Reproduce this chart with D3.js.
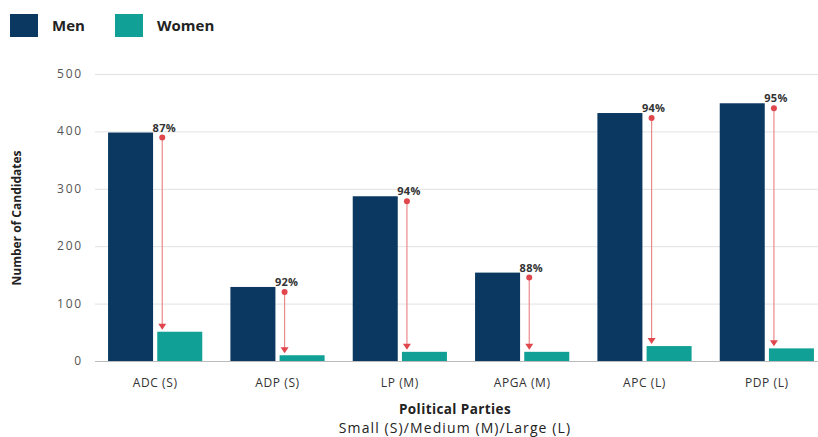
<!DOCTYPE html>
<html>
<head>
<meta charset="utf-8">
<script src="https://cdn.jsdelivr.net/npm/d3@7"></script>
<style>
  body { margin: 0; background: #fff; }
  svg { display: block; font-family: 'Open Sans', sans-serif; }
</style>
</head>
<body>
<svg id="chart" width="818" height="437"></svg>
<script>
const parties = ['ADC (S)', 'ADP (S)', 'LP (M)', 'APGA (M)', 'APC (L)', 'PDP (L)']
const men = [398, 129, 287, 154, 432, 449]
const women = [51, 10, 16, 16, 26, 22]
const shares = ['87%', '92%', '94%', '88%', '94%', '95%']
const series = ['Men', 'Women']
const yTicks = [0, 100, 200, 300, 400, 500]

const colors = { Men: '#0a3861', Women: '#10a096' }
const arrowColor = '#e0474c'

const svg = d3.select('#chart')

const x = d3.scaleBand()
  .domain(parties)
  .range([94, 828])
  .paddingInner(0.23)
  .paddingOuter(0.115)

const xs = d3.scaleBand()
  .domain(series)
  .range([0, x.bandwidth()])
  .paddingInner(0.085)

const y = d3.scaleLinear()
  .domain([0, 500])
  .range([361, 74])

// grid lines
svg.append('g')
  .selectAll('line')
  .data(yTicks)
  .join('line')
  .attr('x1', 95)
  .attr('x2', 818)
  .attr('y1', d => y(d) + 0.5)
  .attr('y2', d => y(d) + 0.5)
  .attr('stroke', d => d === 0 ? '#bbb' : '#e2e2e2')
  .attr('stroke-width', 1)

// y axis labels
svg.append('g')
  .selectAll('text')
  .data(yTicks)
  .join('text')
  .attr('x', 83)
  .attr('y', d => y(d) + 4)
  .attr('text-anchor', 'end')
  .attr('font-size', 12)
  .attr('letter-spacing', 1.8)
  .attr('fill', '#555')
  .text(d => d)

svg.append('text')
  .attr('transform', 'translate(21,218) rotate(-90)')
  .attr('text-anchor', 'middle')
  .attr('font-size', 12)
  .attr('font-weight', 'bold')
  .attr('fill', '#222')
  .text('Number of Candidates')

// bars
const rows = parties.map((p, i) => ({ party: p, Men: men[i], Women: women[i], share: shares[i] }))

const group = svg.append('g')
  .selectAll('g')
  .data(rows)
  .join('g')
  .attr('transform', d => `translate(${x(d.party)},0)`)

group.selectAll('rect')
  .data(d => series.map(s => ({ key: s, value: d[s] })))
  .join('rect')
  .attr('x', d => xs(d.key))
  .attr('width', xs.bandwidth())
  .attr('y', d => y(d.value))
  .attr('height', d => y(0) - y(d.value))
  .attr('fill', d => colors[d.key])

// arrows from men to women
const ax = xs('Women') + 5
group.append('line')
  .attr('x1', ax)
  .attr('x2', ax)
  .attr('y1', d => y(d.Men) + 5)
  .attr('y2', d => y(d.Women) - 6)
  .attr('stroke', '#ea8a8a')
  .attr('stroke-width', 1.2)

group.append('circle')
  .attr('cx', ax)
  .attr('cy', d => y(d.Men) + 5)
  .attr('r', 3)
  .attr('fill', arrowColor)

group.append('path')
  .attr('d', d => {
    const t = y(d.Women) - 2
    return `M${ax - 4},${t - 6}L${ax + 4},${t - 6}L${ax},${t}Z`
  })
  .attr('fill', arrowColor)

group.append('text')
  .attr('x', ax + 2)
  .attr('y', d => y(d.Men) - 1)
  .attr('text-anchor', 'middle')
  .attr('font-size', 11)
  .attr('font-weight', 'bold')
  .attr('letter-spacing', 0.3)
  .attr('fill', '#333')
  .text(d => d.share)

// x labels
svg.append('g')
  .selectAll('text')
  .data(parties)
  .join('text')
  .attr('x', d => x(d) + x.bandwidth() / 2)
  .attr('y', 387)
  .attr('text-anchor', 'middle')
  .attr('font-size', 12)
  .attr('letter-spacing', 0.6)
  .attr('fill', '#333')
  .text(d => d)

svg.append('text')
  .attr('x', 455)
  .attr('y', 414)
  .attr('text-anchor', 'middle')
  .attr('font-size', 13.5)
  .attr('font-weight', 'bold')
  .attr('letter-spacing', 0.4)
  .attr('fill', '#222')
  .text('Political Parties')

svg.append('text')
  .attr('x', 455)
  .attr('y', 433)
  .attr('text-anchor', 'middle')
  .attr('font-size', 14)
  .attr('letter-spacing', 1.1)
  .attr('fill', '#222')
  .text('Small (S)/Medium (M)/Large (L)')

// legend
const legend = svg.append('g')
  .selectAll('g')
  .data(series)
  .join('g')
  .attr('transform', (d, i) => `translate(${10 + i * 105},14)`)

legend.append('rect')
  .attr('width', 28)
  .attr('height', 23)
  .attr('fill', d => colors[d])

legend.append('text')
  .attr('x', 42)
  .attr('y', 17)
  .attr('font-size', 15)
  .attr('font-weight', 'bold')
  .attr('fill', '#222')
  .text(d => d)
</script>
</body>
</html>
